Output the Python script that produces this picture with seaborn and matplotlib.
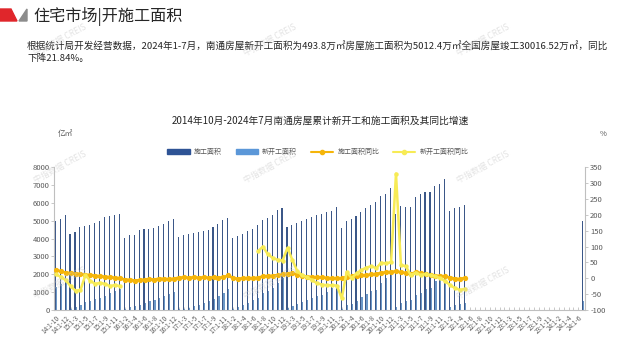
import matplotlib
matplotlib.use('Agg')
import matplotlib.pyplot as plt
from matplotlib.patches import Polygon, Patch
from matplotlib.lines import Line2D
import numpy as np
import pandas as pd
import seaborn as sns

sns.set_theme(style='white')
plt.rcParams['font.family'] = ['Noto Sans CJK SC', 'DejaVu Sans']
plt.rcParams['axes.unicode_minus'] = False

# categories: 2014-10 .. 2024-7 (Jan and Feb reported together)
months = ([(14, m) for m in (10, 11, 12)]
          + [(y, m) for y in range(15, 24) for m in range(2, 13)]
          + [(24, m) for m in range(2, 8)])
cats = [f'{y}:1-{m}' for y, m in months]

# 施工面积 (亿㎡ axis), 2014-10 .. 2022-5, then 2024-7
construction = [5010, 5100, 5310,
                4260, 4370, 4670, 4730, 4770, 4880, 5010, 5210, 5290, 5350, 5380,
                4040, 4200, 4220, 4490, 4520, 4560, 4620, 4710, 4840, 5010, 5120,
                4110, 4210, 4260, 4300, 4370, 4430, 4510, 4640, 4840, 5030, 5140,
                4040, 4130, 4280, 4430, 4560, 4750, 5050, 5180, 5310, 5590, 5700,
                4640, 4750, 4880, 4990, 5100, 5210, 5310, 5380, 5500, 5550, 5760,
                4600, 4990, 5100, 5250, 5480, 5740, 5890, 6070, 6370, 6500, 6840,
                5400, 5830, 5780, 5750, 6330, 6500, 6640, 6620, 6970, 7090, 7340,
                5540, 5720, 5760, 5870]
construction_last = 5012.4

# 新开工面积
new_start = [1300, 1480, 1680,
             80, 160, 290, 430, 520, 600, 700, 800, 940, 1050, 1200,
             70, 140, 220, 300, 390, 480, 560, 650, 760, 880, 1010,
             40, 80, 130, 200, 280, 380, 480, 600, 760, 960, 1150,
             60, 150, 300, 420, 550, 700, 950, 1070, 1230, 1500, 1770,
             120, 235, 360, 455, 565, 660, 780, 845, 1030, 1215, 1360,
             45, 280, 360, 520, 725, 880, 1075, 1100, 1540, 1800, 2070,
             190, 400, 500, 575, 835, 970, 1200, 1210, 1615, 1800, 1905,
             150, 280, 315, 390]
new_start_last = 493.8

# 施工面积同比 (%)
construction_yoy = [26, 22, 18,
                    16, 14, 13, 11, 10, 8, 6, 5, 3, 2, 0,
                    -4, -5, -7, -6, -4, -3, -4, -1, -2, -3, -1,
                    2, 3, 2, 3, 2, 3, 2, 3, 2, 3, 9,
                    0, -1, 0, 1, 0, 2, 6, 7, 8, 10, 12,
                    15, 17, 11, 8, 5, 4, 3, 3, 1, 0, 0,
                    0, 4, 6, 8, 9, 10, 12, 14, 17, 19, 20,
                    22, 19, 17, 12, 20, 16, 12, 10, 8, 7, 6,
                    2, -1, -3, 2]

# 新开工面积同比 (%): 2014-10..2015-12, then 2018-7..2022-5
new_yoy_a = [12, 5, -6,
             -25, -39, -37, 10, -8, -18, -14, -18, -25, -21, -25]
new_yoy_b = [85, 100, 76, 64, 58, 56,
             96, 57, 22, 9, 3, -6, -16, -20, -22, -22, -23,
             -63, 20, 0, 16, 26, 34, 38, 32, 49, 47, 51,
             330, 42, 38, 10, 18, 10, 14, 10, 6, 0, -9,
             -22, -31, -37, -33]
new_yoy_b_start = 41

c_dark = '#2E5395'
c_light = '#5B97D8'
c_orange = '#F5B50A'
c_yellow = '#F7EB55'
c_axis = '#BFBFBF'
c_text = '#595959'

n = len(cats)
rows = []
for i, v in enumerate(construction):
    rows.append((cats[i], '施工面积', v))
for i, v in enumerate(new_start):
    rows.append((cats[i], '新开工面积', v))
rows.append((cats[-1], '施工面积', construction_last))
rows.append((cats[-1], '新开工面积', new_start_last))
df = pd.DataFrame(rows, columns=['cat', 'series', 'value'])

fig = plt.figure(figsize=(6.39, 3.59), dpi=100)
W, H = 639, 359


def fx(px):
    return px / W


def fy(py):
    return 1 - py / H


ax = fig.add_axes([0.085, 0.1365, 0.831, 0.3975])
sns.barplot(data=df, x='cat', y='value', hue='series', order=cats,
            hue_order=['施工面积', '新开工面积'],
            palette=[c_dark, c_light], width=0.45, linewidth=0,
            errorbar=None, legend=False, ax=ax)

ax2 = ax.twinx()
idx = np.arange(len(construction_yoy))
sns.lineplot(x=idx, y=construction_yoy, ax=ax2, color=c_orange, linewidth=1.9,
             marker='o', markersize=3.8, markeredgewidth=0)
sns.lineplot(x=np.arange(len(new_yoy_a)), y=new_yoy_a, ax=ax2, color=c_yellow,
             linewidth=1.8, marker='o', markersize=3.2, markeredgewidth=0)
sns.lineplot(x=np.arange(len(new_yoy_b)) + new_yoy_b_start, y=new_yoy_b, ax=ax2,
             color=c_yellow, linewidth=1.8, marker='o', markersize=3.2,
             markeredgewidth=0)

ax.set_xlim(-0.3, 107.4)
ax.set_ylim(0, 8000)
ax.set_yticks(range(0, 8001, 1000))
ax2.set_ylim(-100, 350)
ax2.set_yticks(range(-100, 351, 50))
ax.set_xlabel('')
ax.set_ylabel('')
ax2.set_ylabel('')

ax.set_xticks(range(0, n, 2))
ax.set_xticklabels(cats[::2], rotation=45, ha='right', rotation_mode='anchor',
                   fontsize=4.6, color=c_text)
ax.set_xticks(range(n), minor=True)
ax.tick_params(axis='x', which='both', direction='in', length=2.5, width=0.6,
               color=c_axis, pad=3, bottom=True)
ax.tick_params(axis='y', direction='out', length=2, width=0.6, color=c_axis,
               labelsize=5.5, labelcolor=c_text, pad=1.5, left=True)
ax2.tick_params(axis='y', direction='out', length=2, width=0.6, color=c_axis,
                labelsize=5.5, labelcolor=c_text, pad=1.5, right=True)

for a in (ax, ax2):
    a.spines['top'].set_visible(False)
    for s in ('left', 'right', 'bottom'):
        a.spines[s].set_color(c_axis)
        a.spines[s].set_linewidth(0.8)
ax.spines['right'].set_visible(False)
ax2.spines['left'].set_visible(False)
ax2.spines['bottom'].set_visible(False)
ax.grid(False)
ax2.grid(False)

# header
fig.patches.append(Polygon([(fx(0), fy(9)), (fx(11), fy(9)), (fx(17), fy(21)), (fx(0), fy(21))],
                           closed=True, transform=fig.transFigure, color='#E0262B'))
fig.patches.append(Polygon([(fx(19), fy(21)), (fx(27), fy(9)), (fx(27), fy(21))],
                           closed=True, transform=fig.transFigure, color='#8C8C8C'))
fig.text(fx(33), fy(17), '住宅市场|开施工面积', fontsize=11.6, color='#262626',
         va='center', ha='left')
fig.text(fx(27), fy(47),
         '根据统计局开发经营数据，2024年1-7月，南通房屋新开工面积为493.8万㎡房屋施工面积为5012.4万㎡全国房屋竣工30016.52万㎡，同比',
         fontsize=6.9, color='#262626', va='center', ha='left')
fig.text(fx(27), fy(58), '下降21.84%。', fontsize=6.9, color='#262626',
         va='center', ha='left')

fig.text(fx(320), fy(121), '2014年10月-2024年7月南通房屋累计新开工和施工面积及其同比增速',
         fontsize=7, color='#262626', ha='center', va='center')
fig.text(fx(58), fy(134), '亿㎡', fontsize=5.5, color=c_text, ha='left', va='center')
fig.text(fx(600), fy(134), '%', fontsize=5.5, color=c_text, ha='left', va='center')

handles = [Patch(color=c_dark), Patch(color=c_light),
           Line2D([], [], color=c_orange, lw=1.5, marker='o', ms=3),
           Line2D([], [], color=c_yellow, lw=1.5, marker='o', ms=3)]
labels = ['施工面积', '新开工面积', '施工面积同比', '新开工面积同比']
leg = fig.legend(handles, labels, loc='center', bbox_to_anchor=(fx(318), fy(152)),
                 ncol=4, frameon=False, fontsize=5, handlelength=3.2,
                 handleheight=0.6, columnspacing=2.0, handletextpad=0.6)
for t in leg.get_texts():
    t.set_color(c_text)

# watermarks
for wx in (60, 270, 483):
    for wy in (40, 167, 283):
        fig.text(fx(wx), fy(wy), '中指数据 CREIS', fontsize=6, color='#C8C8C8',
                 alpha=0.5, rotation=28, ha='center', va='center', zorder=10)

fig.savefig('out.png', dpi=100)
